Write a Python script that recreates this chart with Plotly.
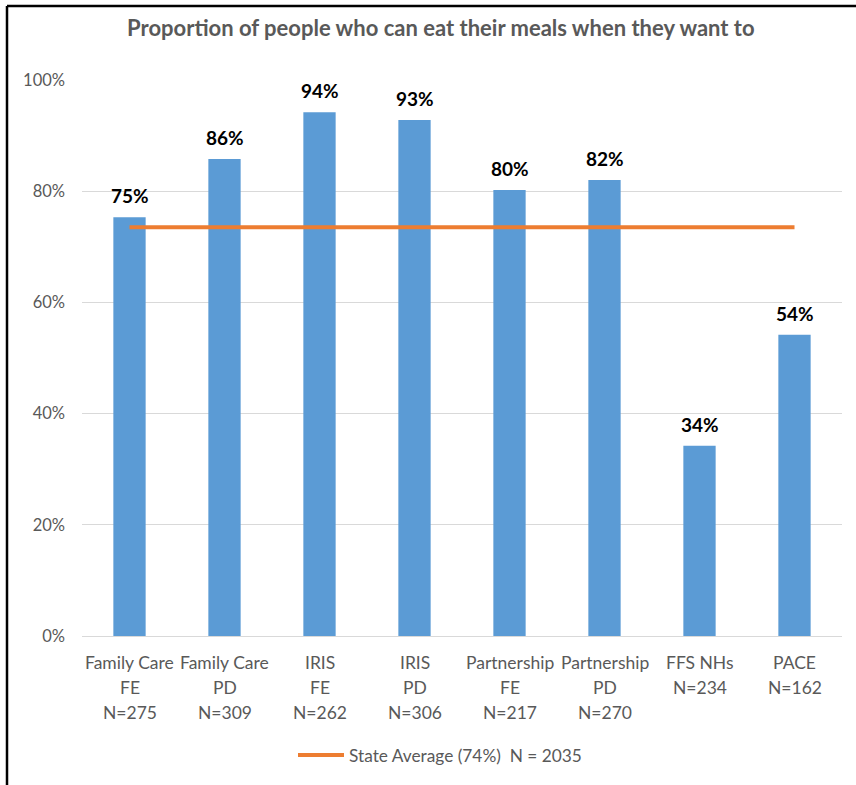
import plotly.graph_objects as go

# Programme groups, sample sizes and share of people who can eat when they want to
programs = ["Family Care", "Family Care", "IRIS", "IRIS", "Partnership", "Partnership", "FFS NHs", "PACE"]
subgroups = ["FE", "PD", "FE", "PD", "FE", "PD", "", ""]
sample_sizes = [275, 309, 262, 306, 217, 270, 234, 162]
proportions = [0.753, 0.858, 0.942, 0.928, 0.802, 0.820, 0.342, 0.542]
state_average = 0.735
state_n = 2035
y_ticks = [0, 0.2, 0.4, 0.6, 0.8, 1.0]

categories = [f"{p} {s} {n}" for p, s, n in zip(programs, subgroups, sample_sizes)]

BLUE = "#5B9BD5"
ORANGE = "#ED7D31"
GRAY_TEXT = "#595959"
FONT = "Lato"

# plot-area geometry in pixels, used to place the frame and the legend key
W, H = 856, 785
L, R, T, B = 82, 14, 80, 149
PW, PH = W - L - R, H - T - B


def px_x(x):
    return (x - L) / PW


def px_y(y):
    return (H - B - y) / PH


fig = go.Figure()

fig.add_trace(go.Bar(
    x=categories,
    y=proportions,
    marker=dict(color=BLUE, line=dict(width=0)),
    showlegend=False,
    hoverinfo="skip",
))

fig.add_trace(go.Scatter(
    x=categories,
    y=[state_average] * len(categories),
    mode="lines",
    line=dict(color=ORANGE, width=4),
    showlegend=False,
    hoverinfo="skip",
))

annotations = []
# value labels above each bar
for cat, val in zip(categories, proportions):
    annotations.append(dict(
        x=cat, y=val, xref="x", yref="y",
        text=f"<b>{val:.0%}</b>", showarrow=False,
        yanchor="bottom", yshift=8,
        font=dict(family=FONT, size=19, color="#000000"),
    ))

# multi-line category labels beneath the axis
for cat, prog, sub, n in zip(categories, programs, subgroups, sample_sizes):
    lines = [prog] + ([sub] if sub else []) + [f"N={n}"]
    for i, line in enumerate(lines):
        annotations.append(dict(
            x=cat, y=0, xref="x", yref="y",
            text=line, showarrow=False,
            yanchor="middle", yshift=-26 - 25 * i,
            font=dict(family=FONT, size=17.5, color=GRAY_TEXT),
        ))

# legend key for the state average line
annotations.append(dict(
    x=px_x(347), y=px_y(755), xref="paper", yref="paper",
    text=f"State Average ({state_average:.0%})  N = {state_n}",
    showarrow=False, xanchor="left", yanchor="middle",
    font=dict(family=FONT, size=17.3, color=GRAY_TEXT),
))

fig.update_layout(
    width=W,
    height=H,
    margin=dict(l=L, r=R, t=T, b=B),
    paper_bgcolor="white",
    plot_bgcolor="white",
    bargap=0.66,
    showlegend=False,
    title=dict(
        text="<b>Proportion of people who can eat their meals when they want to</b>",
        x=0.515, xref="container", xanchor="center",
        y=1 - 28 / H, yref="container", yanchor="middle",
        font=dict(family=FONT, size=22, color=GRAY_TEXT),
    ),
    xaxis=dict(
        showticklabels=False,
        showgrid=False,
        showline=True,
        linecolor="#D9D9D9",
        linewidth=1,
        ticks="",
    ),
    yaxis=dict(
        range=[0, 1.0],
        tickvals=y_ticks,
        tickformat=".0%",
        showgrid=True,
        gridcolor="#D9D9D9",
        gridwidth=1,
        zeroline=False,
        showline=False,
        ticks="",
        ticklabelstandoff=16,
        tickfont=dict(family=FONT, size=16.5, color=GRAY_TEXT),
    ),
    annotations=annotations,
    shapes=[
        # frame edges along the top and left of the chart
        dict(type="line", xref="paper", yref="paper",
             x0=px_x(7), x1=px_x(870), y0=px_y(6), y1=px_y(6),
             line=dict(color="#000000", width=2.5)),
        dict(type="line", xref="paper", yref="paper",
             x0=px_x(7), x1=px_x(7), y0=px_y(6), y1=px_y(800),
             line=dict(color="#000000", width=2.5)),
        # legend line sample
        dict(type="line", xref="paper", yref="paper",
             x0=px_x(298), x1=px_x(344), y0=px_y(755), y1=px_y(755),
             line=dict(color=ORANGE, width=4)),
    ],
)

fig.write_html("out.html")
